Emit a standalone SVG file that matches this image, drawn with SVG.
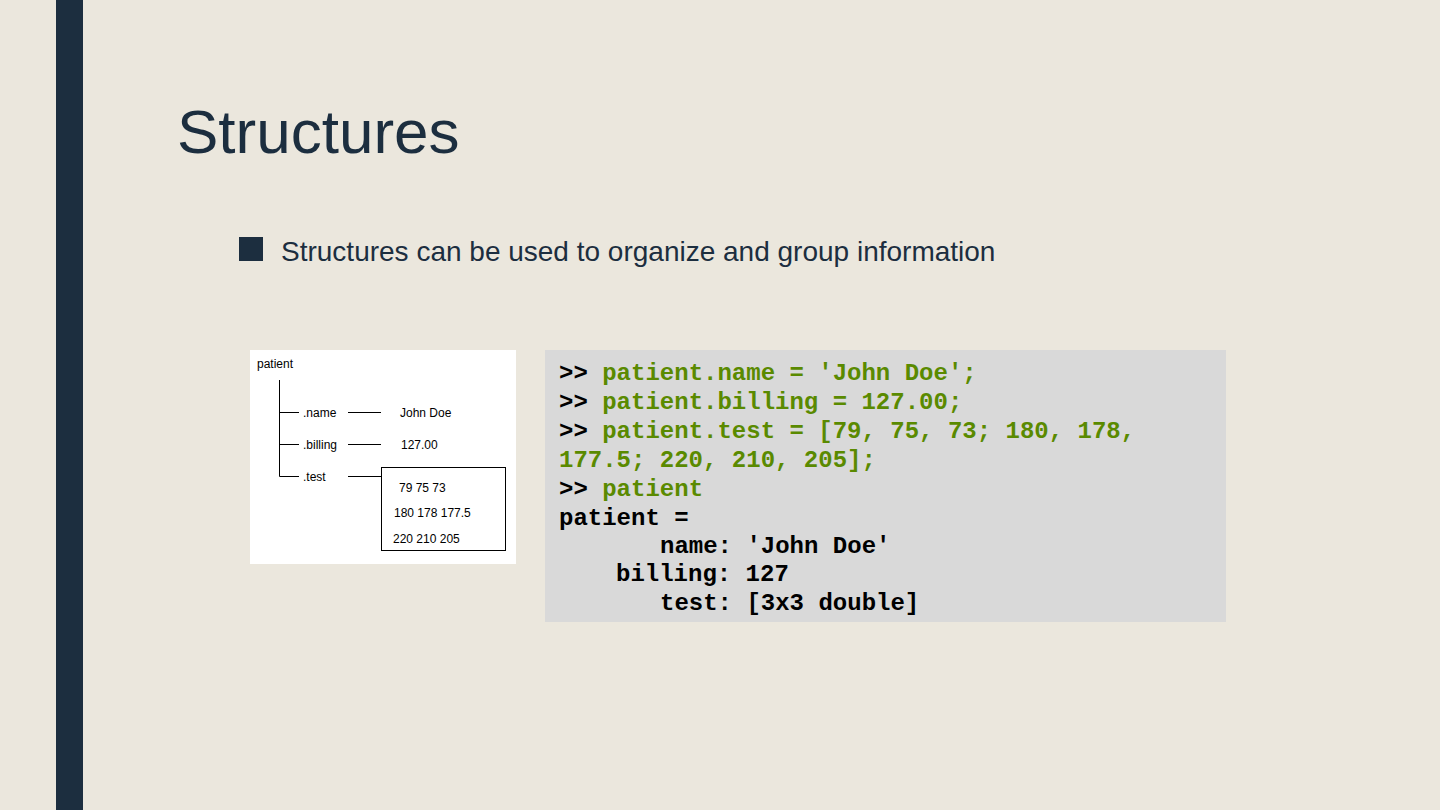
<svg xmlns="http://www.w3.org/2000/svg" width="1440" height="810" viewBox="0 0 1440 810">
<style>
.s{font-family:"Liberation Sans",Arial,sans-serif;font-size:12px;fill:#000}
.c{font-family:"Liberation Mono","Courier New",monospace;font-size:24px;font-weight:bold;fill:#000}
.g{fill:#5a8a00}
.l{stroke:#000;stroke-width:1;fill:none}
</style>
<rect width="1440" height="810" fill="#ebe7dd"/>
<rect x="56" y="0" width="27" height="810" fill="#1c2e3f"/>
<text x="177" y="153" font-family="Liberation Sans,Arial,sans-serif" font-size="62" fill="#1c2e3f">Structures</text>
<rect x="239" y="237" width="24" height="24" fill="#1c2e3f"/>
<text x="281" y="261" font-family="Liberation Sans,Arial,sans-serif" font-size="28" fill="#1c2e3f">Structures can be used to organize and group information</text>
<g id="tree">
<rect x="250" y="350" width="266" height="214" fill="#fff"/>
<text class="s" x="257" y="368">patient</text>
<g id="connectors">
<path class="l" d="M279.5 380V476.5H299M279.5 412.5H299M279.5 444.5H299M348 412.5H381M348 444.5H381M348 476.5H381"/>
</g>
<g id="fields">
<text class="s" x="303" y="417">.name</text>
<text class="s" x="303" y="449">.billing</text>
<text class="s" x="303" y="481">.test</text>
<text class="s" x="400" y="417">John Doe</text>
<text class="s" x="401" y="449">127.00</text>
</g>
<g id="matrix">
<rect class="l" x="381.5" y="467.5" width="124" height="83"/>
<text class="s" x="399" y="492">79   75   73</text>
<text class="s" x="394" y="517">180  178  177.5</text>
<text class="s" x="393" y="543">220  210  205</text>
</g>
</g>
<g id="code">
<rect x="545" y="350" width="681" height="272" fill="#d9d9d9"/>
<text class="c" x="559" y="380">&gt;&gt; <tspan class="g">patient.name = 'John Doe';</tspan></text>
<text class="c" x="559" y="409">&gt;&gt; <tspan class="g">patient.billing = 127.00;</tspan></text>
<text class="c" x="559" y="438">&gt;&gt; <tspan class="g">patient.test = [79, 75, 73; 180, 178,</tspan></text>
<text class="c g" x="559" y="467">177.5; 220, 210, 205];</text>
<text class="c" x="559" y="496">&gt;&gt; <tspan class="g">patient</tspan></text>
<text class="c" x="559" y="525">patient =</text>
<text class="c" x="660" y="553">name: 'John Doe'</text>
<text class="c" x="616" y="581">billing: 127</text>
<text class="c" x="660" y="610">test: [3x3 double]</text>
</g>
</svg>
